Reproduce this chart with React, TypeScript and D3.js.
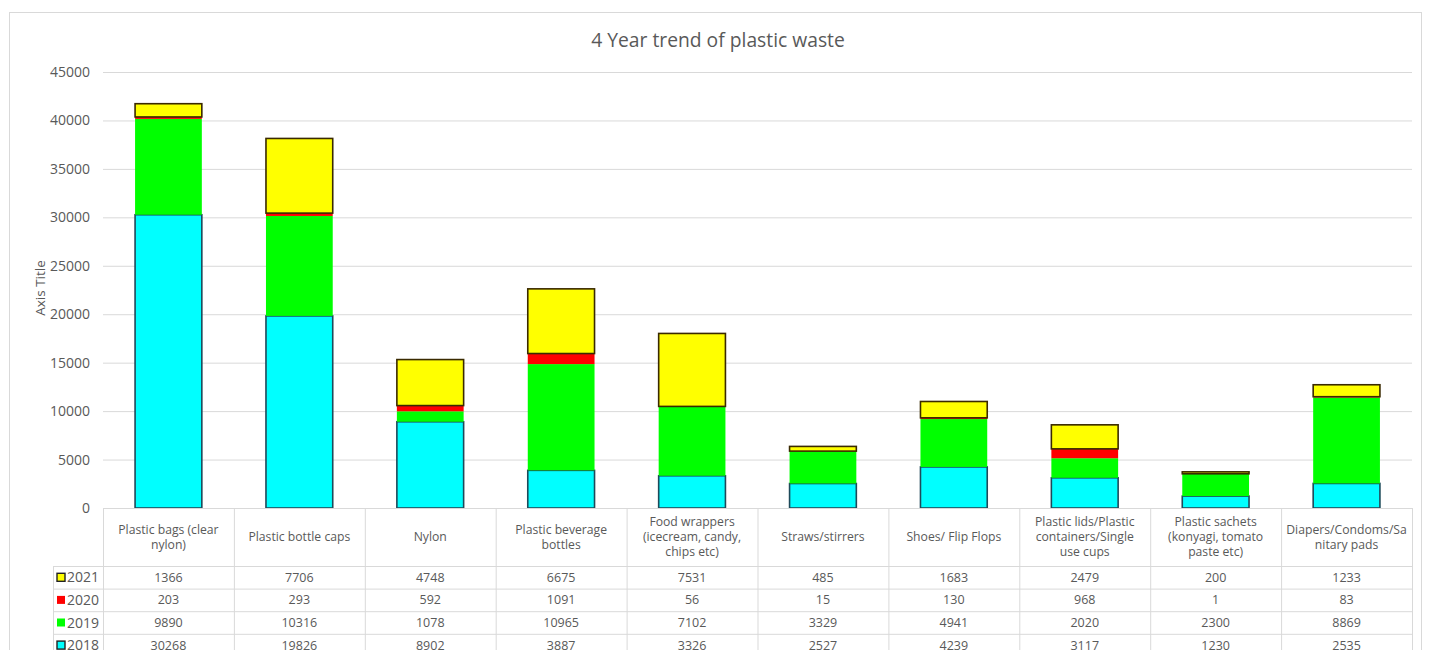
import React from "react";
import * as d3 from "d3";

// Waste categories (header lines of the data table) and yearly counts
const categories = [
  "Plastic bags (clear nylon)",
  "Plastic bottle caps",
  "Nylon",
  "Plastic beverage bottles",
  "Food wrappers (icecream, candy, chips etc)",
  "Straws/stirrers",
  "Shoes/ Flip Flops",
  "Plastic lids/Plastic containers/Single use cups",
  "Plastic sachets (konyagi, tomato paste etc)",
  "Diapers/Condoms/Sanitary pads",
];
const categoryLines = [
  ["Plastic bags (clear", "nylon)"],
  ["Plastic bottle caps"],
  ["Nylon"],
  ["Plastic beverage", "bottles"],
  ["Food wrappers", "(icecream, candy,", "chips etc)"],
  ["Straws/stirrers"],
  ["Shoes/ Flip Flops"],
  ["Plastic lids/Plastic", "containers/Single", "use cups"],
  ["Plastic sachets", "(konyagi, tomato", "paste etc)"],
  ["Diapers/Condoms/Sa", "nitary pads"],
];
const years = ["2018", "2019", "2020", "2021"];
const values2018 = [30268, 19826, 8902, 3887, 3326, 2527, 4239, 3117, 1230, 2535];
const values2019 = [9890, 10316, 1078, 10965, 7102, 3329, 4941, 2020, 2300, 8869];
const values2020 = [203, 293, 592, 1091, 56, 15, 130, 968, 1, 83];
const values2021 = [1366, 7706, 4748, 6675, 7531, 485, 1683, 2479, 200, 1233];
const yTicks = [0, 5000, 10000, 15000, 20000, 25000, 30000, 35000, 40000, 45000];

const seriesValues = [values2018, values2019, values2020, values2021];
const fills = ["#00FFFF", "#00FF00", "#FF0000", "#FFFF00"];
const strokes = ["#1E4A5A", "none", "none", "#3A2A00"];

const W = 1434;
const H = 658;
const FONT = "'Open Sans', 'Noto Sans', sans-serif";
const TEXT = "#595959";
const GRID = "#D9D9D9";

export default function App() {
  const left = 103;
  const right = 1412;
  const top = 72;
  const bottom = 508;

  const x = d3.scaleBand<string>().domain(categories).range([left, right]).paddingInner(0.49).paddingOuter(0.245);
  const band = d3.scaleBand<string>().domain(categories).range([left, right]);
  const y = d3.scaleLinear().domain([0, 45000]).range([bottom, top]);

  const table = categories.map((c, i) => {
    const row: Record<string, number | string> = { category: c };
    years.forEach((yr, k) => (row[yr] = seriesValues[k][i]));
    return row;
  });
  const stacked = d3.stack<Record<string, number | string>>().keys(years)(table as any);

  const headerTop = 508;
  const headerBottom = 566;
  const rowH = 22.6;
  const legendLeft = 53;
  const rowOrder = [3, 2, 1, 0]; // table rows list 2021 first
  const tableBottom = headerBottom + rowH * 4;

  return (
    <div style={{ margin: -8 }}>
      <svg width={W} height={H} style={{ display: "block", fontFamily: FONT }}>
        <rect x={0} y={0} width={W} height={H} fill="#fff" />
        <rect x={9.5} y={12.5} width={1412} height={H} fill="#fff" stroke="#D9D9D9" />
        <text x={718} y={47} textAnchor="middle" fontSize={19.3} fill={TEXT}>
          4 Year trend of plastic waste
        </text>

        {/* gridlines and y tick labels */}
        {yTicks.map((t) => (
          <g key={t}>
            {t > 0 && <line x1={left} x2={right} y1={y(t) + 0.5} y2={y(t) + 0.5} stroke={GRID} />}
            <text x={90} y={y(t) + 5} textAnchor="end" fontSize={14} fill={TEXT}>
              {t}
            </text>
          </g>
        ))}
        <text
          transform={`translate(45, ${(top + bottom) / 2 - 2}) rotate(-90)`}
          textAnchor="middle"
          fontSize={13.5}
          fill={TEXT}
        >
          Axis Title
        </text>

        {/* stacked bars */}
        {stacked.map((s, k) => (
          <g key={years[k]}>
            {s.map((d, i) => {
              const y0 = y(d[0]);
              const y1 = y(d[1]);
              return (
                <rect
                  key={i}
                  x={x(categories[i])!}
                  y={y1}
                  width={x.bandwidth()}
                  height={Math.max(0, y0 - y1)}
                  fill={fills[k]}
                  stroke={strokes[k]}
                  strokeWidth={1.6}
                />
              );
            })}
          </g>
        ))}

        {/* data table */}
        <g stroke={GRID} strokeWidth={1}>
          <line x1={left} x2={right} y1={headerTop + 0.5} y2={headerTop + 0.5} />
          {[0, 1, 2, 3, 4].map((r) => (
            <line
              key={r}
              x1={legendLeft}
              x2={right}
              y1={headerBottom + r * rowH + 0.5}
              y2={headerBottom + r * rowH + 0.5}
            />
          ))}
          <line x1={legendLeft + 0.5} x2={legendLeft + 0.5} y1={headerBottom} y2={tableBottom} />
          {categories.map((c) => (
            <line key={c} x1={band(c)! + 0.5} x2={band(c)! + 0.5} y1={headerTop} y2={tableBottom} />
          ))}
          <line x1={right + 0.5} x2={right + 0.5} y1={headerTop} y2={tableBottom} />
        </g>

        {categories.map((c, i) => {
          const lines = categoryLines[i];
          const cx = band(c)! + band.bandwidth() / 2;
          const cy = (headerTop + headerBottom) / 2;
          const lh = 15;
          return (
            <g key={c}>
              {lines.map((l, j) => (
                <text
                  key={j}
                  x={cx}
                  y={cy + (j - (lines.length - 1) / 2) * lh + 4.3}
                  textAnchor="middle"
                  fontSize={12.2}
                  fill={TEXT}
                >
                  {l}
                </text>
              ))}
            </g>
          );
        })}

        {rowOrder.map((k, r) => {
          const cy = headerBottom + r * rowH + rowH / 2;
          return (
            <g key={years[k]}>
              <rect
                x={57}
                y={cy - 4}
                width={8}
                height={8}
                fill={fills[k]}
                stroke={strokes[k] === "none" ? "none" : "#222"}
                strokeWidth={1.4}
              />
              <text x={67} y={cy + 5} fontSize={14} fill={TEXT}>
                {years[k]}
              </text>
              {categories.map((c, i) => (
                <text
                  key={c}
                  x={band(c)! + band.bandwidth() / 2}
                  y={cy + 4.5}
                  textAnchor="middle"
                  fontSize={12.5}
                  fill={TEXT}
                >
                  {seriesValues[k][i]}
                </text>
              ))}
            </g>
          );
        })}
      </svg>
    </div>
  );
}
